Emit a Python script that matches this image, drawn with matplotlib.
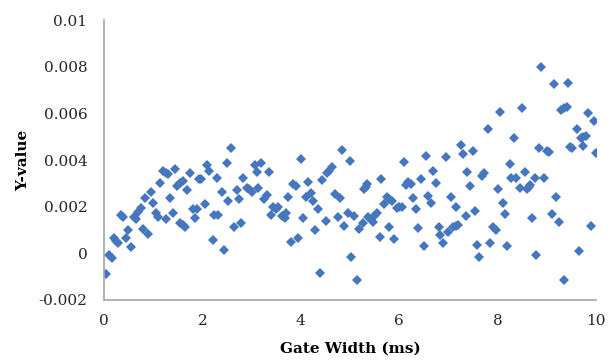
import matplotlib.pyplot as plt

# gate width (ms) and y-value
gate_width = [0.04, 0.11, 0.16, 0.20, 0.24, 0.29, 0.34, 0.39, 0.45, 0.49,
              0.54, 0.60, 0.65, 0.70, 0.75, 0.79, 0.83, 0.90, 0.95, 1.00,
              1.06, 1.10, 1.14, 1.19, 1.25, 1.26, 1.31, 1.34, 1.40, 1.44,
              1.49, 1.54, 1.54, 1.60, 1.60, 1.65, 1.69, 1.75, 1.80, 1.85,
              1.90, 1.94, 1.98, 2.05, 2.09, 2.14, 2.21, 2.24, 2.29, 2.32,
              2.39, 2.44, 2.49, 2.53, 2.58, 2.65, 2.70, 2.74, 2.78, 2.83,
              2.90, 2.95, 3.00, 3.06, 3.10, 3.13, 3.19, 3.26, 3.31, 3.35,
              3.39, 3.44, 3.49, 3.54, 3.61, 3.67, 3.69, 3.73, 3.80, 3.85,
              3.90, 3.94, 4.00, 4.05, 4.10, 4.15, 4.21, 4.25, 4.29, 4.34,
              4.39, 4.44, 4.51, 4.53, 4.57, 4.63, 4.70, 4.75, 4.80, 4.83,
              4.88, 4.95, 5.00, 5.03, 5.08, 5.14, 5.19, 5.26, 5.28, 5.33,
              5.35, 5.37, 5.42, 5.46, 5.49, 5.54, 5.60, 5.64, 5.69, 5.75,
              5.80, 5.80, 5.85, 5.89, 5.95, 6.00, 6.05, 6.10, 6.14, 6.18,
              6.23, 6.29, 6.35, 6.39, 6.44, 6.50, 6.54, 6.59, 6.64, 6.69,
              6.75, 6.80, 6.83, 6.90, 6.95, 7.00, 7.05, 7.10, 7.15, 7.15,
              7.20, 7.25, 7.30, 7.36, 7.38, 7.44, 7.49, 7.54, 7.59, 7.63,
              7.69, 7.73, 7.80, 7.85, 7.91, 7.96, 8.00, 8.05, 8.10, 8.15,
              8.20, 8.25, 8.28, 8.34, 8.38, 8.46, 8.50, 8.56, 8.59, 8.64,
              8.66, 8.69, 8.75, 8.79, 8.84, 8.89, 8.95, 9.00, 9.04, 9.10,
              9.14, 9.19, 9.25, 9.29, 9.34, 9.34, 9.41, 9.44, 9.47, 9.52,
              9.61, 9.65, 9.70, 9.74, 9.74, 9.79, 9.84, 9.90, 9.95, 9.99]

y_value = [-0.00089, -0.00007, -0.00020, 0.00064, 0.00054, 0.00045, 0.00163, 0.00154, 0.00064, 0.00100,
           0.00026, 0.00154, 0.00146, 0.00178, 0.00193, 0.00103, 0.00238, 0.00083, 0.00263, 0.00214,
           0.00171, 0.00157, 0.00303, 0.00354, 0.00146, 0.00345, 0.00340, 0.00238, 0.00171, 0.00360,
           0.00289, 0.00300, 0.00131, 0.00311, 0.00121, 0.00114, 0.00271, 0.00343, 0.00191, 0.00150,
           0.00189, 0.00317, 0.00317, 0.00211, 0.00378, 0.00354, 0.00057, 0.00164, 0.00321, 0.00164,
           0.00264, 0.00014, 0.00388, 0.00225, 0.00450, 0.00114, 0.00271, 0.00234, 0.00131, 0.00321,
           0.00279, 0.00274, 0.00264, 0.00378, 0.00350, 0.00279, 0.00386, 0.00231, 0.00250, 0.00350,
           0.00164, 0.00197, 0.00189, 0.00197, 0.00160, 0.00150, 0.00171, 0.00243, 0.00050, 0.00297,
           0.00289, 0.00064, 0.00403, 0.00150, 0.00243, 0.00307, 0.00257, 0.00225, 0.00100, 0.00189,
           -0.00083, 0.00314, 0.00140, 0.00345, 0.00354, 0.00369, 0.00254, 0.00157, 0.00236, 0.00443,
           0.00117, 0.00174, 0.00397, -0.00017, 0.00160, -0.00115, 0.00103, 0.00131, 0.00274, 0.00286,
           0.00297, 0.00154, 0.00146, 0.00135, 0.00160, 0.00171, 0.00069, 0.00317, 0.00211, 0.00240,
           0.00231, 0.00114, 0.00225, 0.00063, 0.00193, 0.00200, 0.00197, 0.00393, 0.00293, 0.00307,
           0.00297, 0.00236, 0.00190, 0.00107, 0.00317, 0.00031, 0.00417, 0.00246, 0.00217, 0.00354,
           0.00300, 0.00111, 0.00078, 0.00045, 0.00411, 0.00093, 0.00243, 0.00114, 0.00117, 0.00197,
           0.00121, 0.00464, 0.00426, 0.00160, 0.00350, 0.00289, 0.00440, 0.00183, 0.00036, -0.00014,
           0.00333, 0.00343, 0.00533, 0.00043, 0.00114, 0.00100, 0.00276, 0.00604, 0.00214, 0.00168,
           0.00033, 0.00381, 0.00321, 0.00495, 0.00324, 0.00279, 0.00621, 0.00347, 0.00276, 0.00286,
           0.00293, 0.00150, 0.00321, -0.00007, 0.00453, 0.00800, 0.00324, 0.00438, 0.00433, 0.00167,
           0.00724, 0.00243, 0.00133, 0.00614, 0.00621, -0.00114, 0.00628, 0.00729, 0.00457, 0.00453,
           0.00533, 0.00010, 0.00495, 0.00500, 0.00461, 0.00504, 0.00600, 0.00118, 0.00567, 0.00429]

x_ticks = [0, 2, 4, 6, 8, 10]
y_ticks = [-0.002, 0, 0.002, 0.004, 0.006, 0.008, 0.01]
y_tick_labels = ['-0.002', '0', '0.002', '0.004', '0.006', '0.008', '0.01']

plt.rcParams['font.family'] = ['DejaVu Serif']

fig = plt.figure(figsize=(6.14, 3.6), dpi=100)
ax = fig.add_axes([0.1694, 0.1667, 0.8013, 0.7777])

ax.plot(gate_width, y_value, linestyle='none', marker='D', markersize=5,
        color='#4677be', markeredgewidth=0)

ax.set_xlim(0, 10)
ax.set_ylim(-0.002, 0.01)
ax.set_xticks(x_ticks)
ax.set_yticks(y_ticks)
ax.set_yticklabels(y_tick_labels)
ax.tick_params(length=0, labelsize=11, colors='#262626')
ax.tick_params(axis='y', pad=12)
ax.tick_params(axis='x', pad=10)

for side in ['top', 'right']:
    ax.spines[side].set_visible(False)
for side in ['left', 'bottom']:
    ax.spines[side].set_color('#a6a6a6')
    ax.spines[side].set_linewidth(1.2)

ax.set_xlabel('Gate Width (ms)', fontsize=11, fontweight='bold', labelpad=10)
ax.set_ylabel('Y-value', fontsize=11, fontweight='bold', labelpad=6)

fig.savefig('out.png', dpi=100)
